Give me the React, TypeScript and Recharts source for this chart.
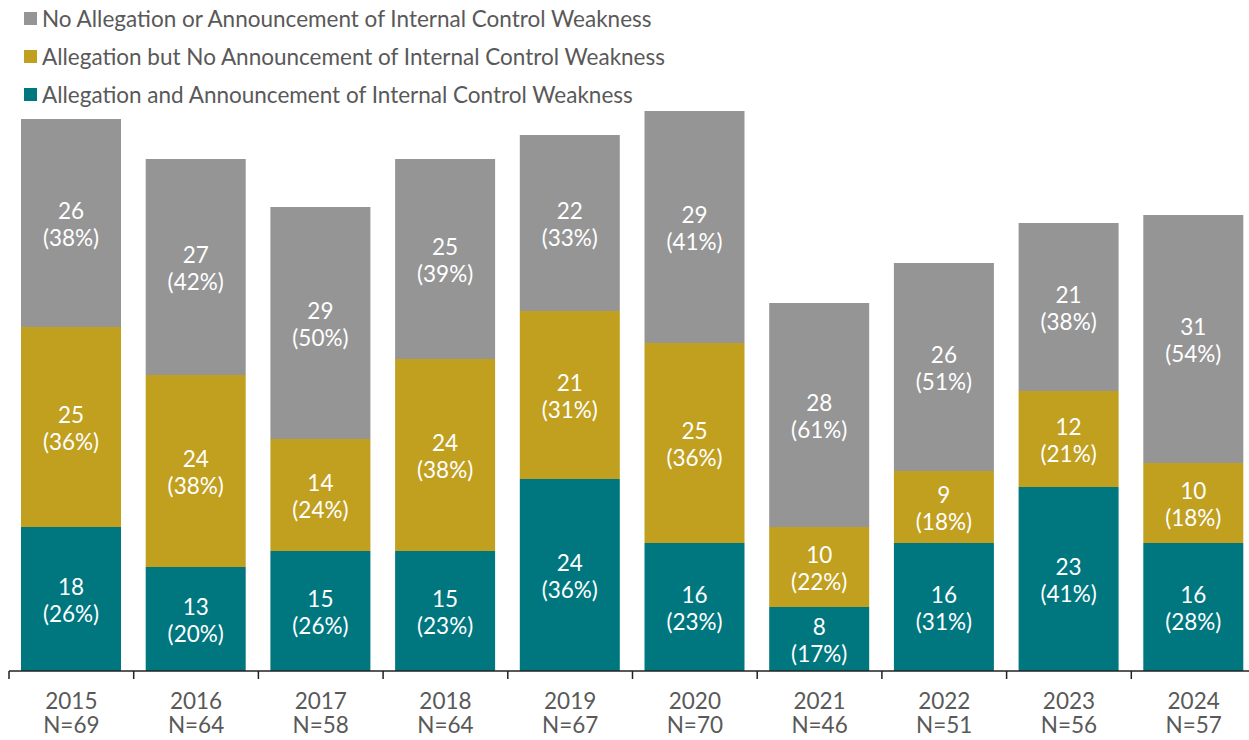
import { Bar, BarChart, LabelList, XAxis, YAxis } from "recharts";

const years = ["2015", "2016", "2017", "2018", "2019", "2020", "2021", "2022", "2023", "2024"];
const announced = [18, 13, 15, 15, 24, 16, 8, 16, 23, 16];
const allegedOnly = [25, 24, 14, 24, 21, 25, 10, 9, 12, 10];
const noAllegation = [26, 27, 29, 25, 22, 29, 28, 26, 21, 31];
const totals = [69, 64, 58, 64, 67, 70, 46, 51, 56, 57];

const TEAL = "#00777f";
const GOLD = "#c19f1f";
const GRAY = "#959595";
const TEXT = "#595959";
const FONT = "Lato, 'Open Sans', sans-serif";

const SERIES = [
  { key: "noAllegation", name: "No Allegation or Announcement of Internal Control Weakness", color: GRAY },
  { key: "allegedOnly", name: "Allegation but No Announcement of Internal Control Weakness", color: GOLD },
  { key: "announced", name: "Allegation and Announcement of Internal Control Weakness", color: TEAL },
];

const data = years.map((year, i) => ({
  year,
  n: totals[i],
  announced: announced[i],
  allegedOnly: allegedOnly[i],
  noAllegation: noAllegation[i],
}));

const WIDTH = 1256;
const HEIGHT = 740;
const MARGIN = { top: 111, right: 0, bottom: 0, left: 9 };
const BAND = (WIDTH - MARGIN.left - MARGIN.right) / years.length;

function SegmentLabel(props: any) {
  const { x, y, width, height, value, index } = props;
  const cx = Number(x) + Number(width) / 2;
  const cy = Number(y) + Number(height) / 2;
  const pct = Math.round((Number(value) / totals[index]) * 100);
  return (
    <text x={cx} y={cy} fill="#fff" fontSize={22.5} fontFamily={FONT} textAnchor="middle">
      <tspan x={cx} y={cy - 4}>{value}</tspan>
      <tspan x={cx} y={cy + 23}>({pct}%)</tspan>
    </text>
  );
}

function YearTick(props: any) {
  const { x, y, payload, index } = props;
  const left = x - BAND / 2;
  return (
    <g>
      <line x1={left} x2={left} y1={y - 8} y2={y} stroke="#222" strokeWidth={1.5} />
      <text x={x} textAnchor="middle" fill={TEXT} fontSize={22.5} fontFamily={FONT}>
        <tspan x={x} y={y + 30}>{payload.value}</tspan>
        <tspan x={x} y={y + 54}>N={totals[index]}</tspan>
      </text>
    </g>
  );
}

function LegendBox() {
  return (
    <div style={{ position: "absolute", left: 24, top: -1, fontFamily: FONT, fontSize: 22.5, color: TEXT }}>
      {SERIES.map((s) => (
        <div key={s.key} style={{ display: "flex", alignItems: "center", height: 38 }}>
          <span style={{ width: 13, height: 13, background: s.color, marginRight: 5, display: "inline-block" }} />
          <span>{s.name}</span>
        </div>
      ))}
    </div>
  );
}

export default function App() {
  return (
    <div style={{ position: "absolute", left: 0, top: 0, width: 1249, height: 740, overflow: "hidden", background: "#fff" }}>
      <BarChart width={WIDTH} height={HEIGHT} data={data} margin={MARGIN} barSize={100}>
        <XAxis
          dataKey="year"
          axisLine={{ stroke: "#222", strokeWidth: 1.5 }}
          tickLine={false}
          tick={<YearTick />}
          interval={0}
          height={69}
        />
        <YAxis hide domain={[0, 70]} />
        <Bar dataKey="announced" stackId="a" fill={TEAL} isAnimationActive={false}>
          <LabelList dataKey="announced" content={<SegmentLabel />} />
        </Bar>
        <Bar dataKey="allegedOnly" stackId="a" fill={GOLD} isAnimationActive={false}>
          <LabelList dataKey="allegedOnly" content={<SegmentLabel />} />
        </Bar>
        <Bar dataKey="noAllegation" stackId="a" fill={GRAY} isAnimationActive={false}>
          <LabelList dataKey="noAllegation" content={<SegmentLabel />} />
        </Bar>
      </BarChart>
      <LegendBox />
    </div>
  );
}
